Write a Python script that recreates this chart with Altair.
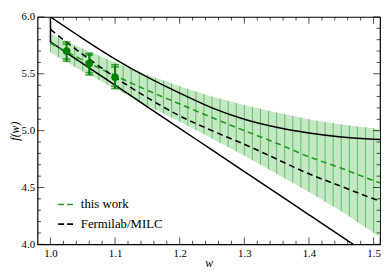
import altair as alt
import pandas as pd

FONT = "Liberation Serif"
W, H = 348, 231

# ---- curve samples ----
w_line = [1.0, 1.05, 1.1, 1.15, 1.2, 1.25, 1.3, 1.35, 1.4, 1.45, 1.5, 1.5125]
fnal_upper = [6.00, 5.81, 5.63, 5.47, 5.33, 5.20, 5.10, 5.03, 4.98, 4.945, 4.925, 4.922]
fnal_center = [5.89, 5.67, 5.47, 5.29, 5.13, 5.00, 4.88, 4.75, 4.62, 4.51, 4.40, 4.375]
fnal_lower = [5.78, 5.59, 5.40, 5.21, 5.02, 4.83, 4.64, 4.45, 4.26, 4.07, 3.88, 3.83]
this_center = [5.77, 5.62, 5.485, 5.355, 5.235, 5.115, 5.00, 4.89, 4.77, 4.67, 4.56, 4.535]

# ---- "this work" error band (hatched) ----
w_band = [1.0, 1.0125, 1.025, 1.0375,
          1.05, 1.0625, 1.075, 1.0875,
          1.1, 1.1125, 1.125, 1.1375,
          1.15, 1.1625, 1.175, 1.1875,
          1.2, 1.2125, 1.225, 1.2375,
          1.25, 1.2625, 1.275, 1.2875,
          1.3, 1.3125, 1.325, 1.3375,
          1.35, 1.3625, 1.375, 1.3875,
          1.4, 1.4125, 1.425, 1.4375,
          1.45, 1.4625, 1.475, 1.4875,
          1.5, 1.5125]
band_upper = [5.855, 5.820, 5.787, 5.753,
              5.720, 5.690, 5.660, 5.630,
              5.600, 5.572, 5.545, 5.517,
              5.490, 5.465, 5.440, 5.415,
              5.390, 5.367, 5.345, 5.322,
              5.300, 5.280, 5.262, 5.243,
              5.225, 5.208, 5.192, 5.176,
              5.160, 5.145, 5.130, 5.115,
              5.100, 5.088, 5.077, 5.066,
              5.055, 5.046, 5.037, 5.028,
              5.020, 5.012]
band_lower = [5.690, 5.646, 5.603, 5.561,
              5.520, 5.482, 5.445, 5.407,
              5.370, 5.332, 5.295, 5.257,
              5.220, 5.185, 5.150, 5.115,
              5.080, 5.042, 5.005, 4.967,
              4.930, 4.892, 4.855, 4.817,
              4.780, 4.740, 4.700, 4.660,
              4.620, 4.580, 4.540, 4.500,
              4.460, 4.418, 4.375, 4.333,
              4.290, 4.244, 4.197, 4.150,
              4.100, 4.050]

# ---- lattice data points ----
pt_w = [1.025, 1.06, 1.10]
pt_f = [5.70, 5.59, 5.47]
pt_hi_tot = [5.78, 5.68, 5.58]
pt_lo_tot = [5.61, 5.49, 5.37]
pt_hi_stat = [5.76, 5.665, 5.56]
pt_lo_stat = [5.63, 5.51, 5.39]

# ---- ticks ----
x_major = [1.0, 1.1, 1.2, 1.3, 1.4, 1.5]
x_minor = [1.02, 1.04, 1.06, 1.08, 1.12, 1.14, 1.16, 1.18,
           1.22, 1.24, 1.26, 1.28, 1.32, 1.34, 1.36, 1.38,
           1.42, 1.44, 1.46, 1.48]
y_major = [4.0, 4.5, 5.0, 5.5, 6.0]
y_minor = [4.1, 4.2, 4.3, 4.4, 4.6, 4.7, 4.8, 4.9,
           5.1, 5.2, 5.3, 5.4, 5.6, 5.7, 5.8, 5.9]

series_names = ["this work", "Fermilab/MILC"]
series_colors = ["#1f9a1f", "#000000"]

GREEN = "#008000"
MAJOR, MINOR = 7, 3.5

xs = alt.Scale(domain=[0.98, 1.51], nice=False, zero=False)
ys = alt.Scale(domain=[4.0, 6.0], nice=False, zero=False)

x_axis = alt.Axis(orient="bottom", values=x_major, format=".1f", ticks=False,
                  domain=False, grid=False, labelFont=FONT, labelFontSize=11,
                  labelColor="black", labelPadding=3, titleFont=FONT,
                  titleFontStyle="italic", titleFontWeight="normal",
                  titleFontSize=12, titleColor="black", titlePadding=0)
y_axis = alt.Axis(orient="left", values=y_major, format=".1f", ticks=False,
                  domain=False, grid=False, labelFont=FONT, labelFontSize=11,
                  labelColor="black", labelPadding=3, titleFont=FONT,
                  titleFontStyle="italic", titleFontWeight="normal",
                  titleFontSize=12, titleColor="black", titlePadding=0)


def X(field):
    return alt.X(field, scale=xs, axis=x_axis, title="w")


def Y(field):
    return alt.Y(field, scale=ys, axis=y_axis, title="f(w)")


band_df = pd.DataFrame({"w": w_band, "lo": band_lower, "hi": band_upper})
lines_df = pd.DataFrame({"w": w_line, "up": fnal_upper, "low": fnal_lower})
edge_df = pd.DataFrame({"w": [w_line[0]], "lo": [fnal_lower[0]], "hi": [fnal_upper[0]]})
dash_df = pd.concat([
    pd.DataFrame({"w": w_line, "f": this_center, "series": series_names[0]}),
    pd.DataFrame({"w": w_line, "f": fnal_center, "series": series_names[1]}),
], ignore_index=True)
pts_df = pd.DataFrame({"w": pt_w, "f": pt_f, "hi_tot": pt_hi_tot, "lo_tot": pt_lo_tot,
                       "hi_stat": pt_hi_stat, "lo_stat": pt_lo_stat})

band = alt.Chart(band_df).mark_area(color="#c4e8c4", clip=True).encode(
    x=X("w:Q"), y=Y("lo:Q"), y2="hi:Q",
)

hatch = alt.Chart(band_df).mark_rule(color="#4fb14f", strokeWidth=0.8, clip=True).encode(
    x=X("w:Q"), y=Y("lo:Q"), y2="hi:Q",
)

upper_line = alt.Chart(lines_df).mark_line(color="black", strokeWidth=1.5, clip=True,
                                           interpolate="monotone").encode(
    x=X("w:Q"), y=Y("up:Q"),
)

lower_line = alt.Chart(lines_df).mark_line(color="black", strokeWidth=1.5, clip=True,
                                           interpolate="monotone").encode(
    x=X("w:Q"), y=Y("low:Q"),
)

edge = alt.Chart(edge_df).mark_rule(color="black", strokeWidth=1.5).encode(
    x=X("w:Q"), y=Y("lo:Q"), y2="hi:Q",
)

dashed = alt.Chart(dash_df).mark_line(strokeDash=[6, 4], strokeWidth=1.6, clip=True,
                                      interpolate="monotone").encode(
    x=X("w:Q"), y=Y("f:Q"),
    color=alt.Color("series:N",
                    scale=alt.Scale(domain=series_names, range=series_colors),
                    legend=alt.Legend(title=None, orient="none", legendX=20,
                                      legendY=H - 49, direction="vertical",
                                      symbolType="stroke", symbolDash=[6, 3],
                                      symbolStrokeWidth=1.6, symbolSize=225,
                                      labelFont=FONT, labelFontSize=13,
                                      labelColor="black", rowPadding=4,
                                      labelOffset=7, padding=0)),
)

err = alt.Chart(pts_df).mark_rule(color=GREEN, strokeWidth=2).encode(
    x=X("w:Q"), y=Y("lo_tot:Q"), y2="hi_tot:Q",
)

caps = alt.Chart(pts_df).transform_fold(
    ["hi_tot", "lo_tot", "hi_stat", "lo_stat"], as_=["kind", "v"]
).mark_tick(color=GREEN, orient="horizontal", size=8, thickness=1.6).encode(
    x=X("w:Q"), y=Y("v:Q"),
)

points = alt.Chart(pts_df).mark_circle(color=GREEN, size=60, opacity=1).encode(
    x=X("w:Q"), y=Y("f:Q"),
)


# inward-pointing axis ticks on all four sides (tick marks centred half a length inside)
def x_ticks(values, length):
    df = pd.DataFrame({"v": values})
    bottom = alt.Chart(df).mark_tick(color="black", orient="vertical", size=length,
                                     thickness=1).encode(
        x=X("v:Q"), y=alt.value(H - length / 2))
    top = alt.Chart(df).mark_tick(color="black", orient="vertical", size=length,
                                  thickness=1).encode(
        x=X("v:Q"), y=alt.value(length / 2))
    return [bottom, top]


def y_ticks(values, length):
    df = pd.DataFrame({"v": values})
    left = alt.Chart(df).mark_tick(color="black", orient="horizontal", size=length,
                                   thickness=1).encode(
        y=Y("v:Q"), x=alt.value(length / 2))
    right = alt.Chart(df).mark_tick(color="black", orient="horizontal", size=length,
                                    thickness=1).encode(
        y=Y("v:Q"), x=alt.value(W - length / 2))
    return [left, right]


ticks = (x_ticks(x_major, MAJOR) + x_ticks(x_minor, MINOR)
         + y_ticks(y_major, MAJOR) + y_ticks(y_minor, MINOR))

chart = alt.layer(
    band, hatch, upper_line, lower_line, edge, dashed, err, caps, points, *ticks
).properties(
    width=W, height=H, padding={"left": 0, "top": 1, "right": 1, "bottom": 0},
    background="white",
).configure_view(
    stroke="black", strokeWidth=1.2
)

chart.save("out.html", embed_options={"renderer": "svg", "actions": False})
